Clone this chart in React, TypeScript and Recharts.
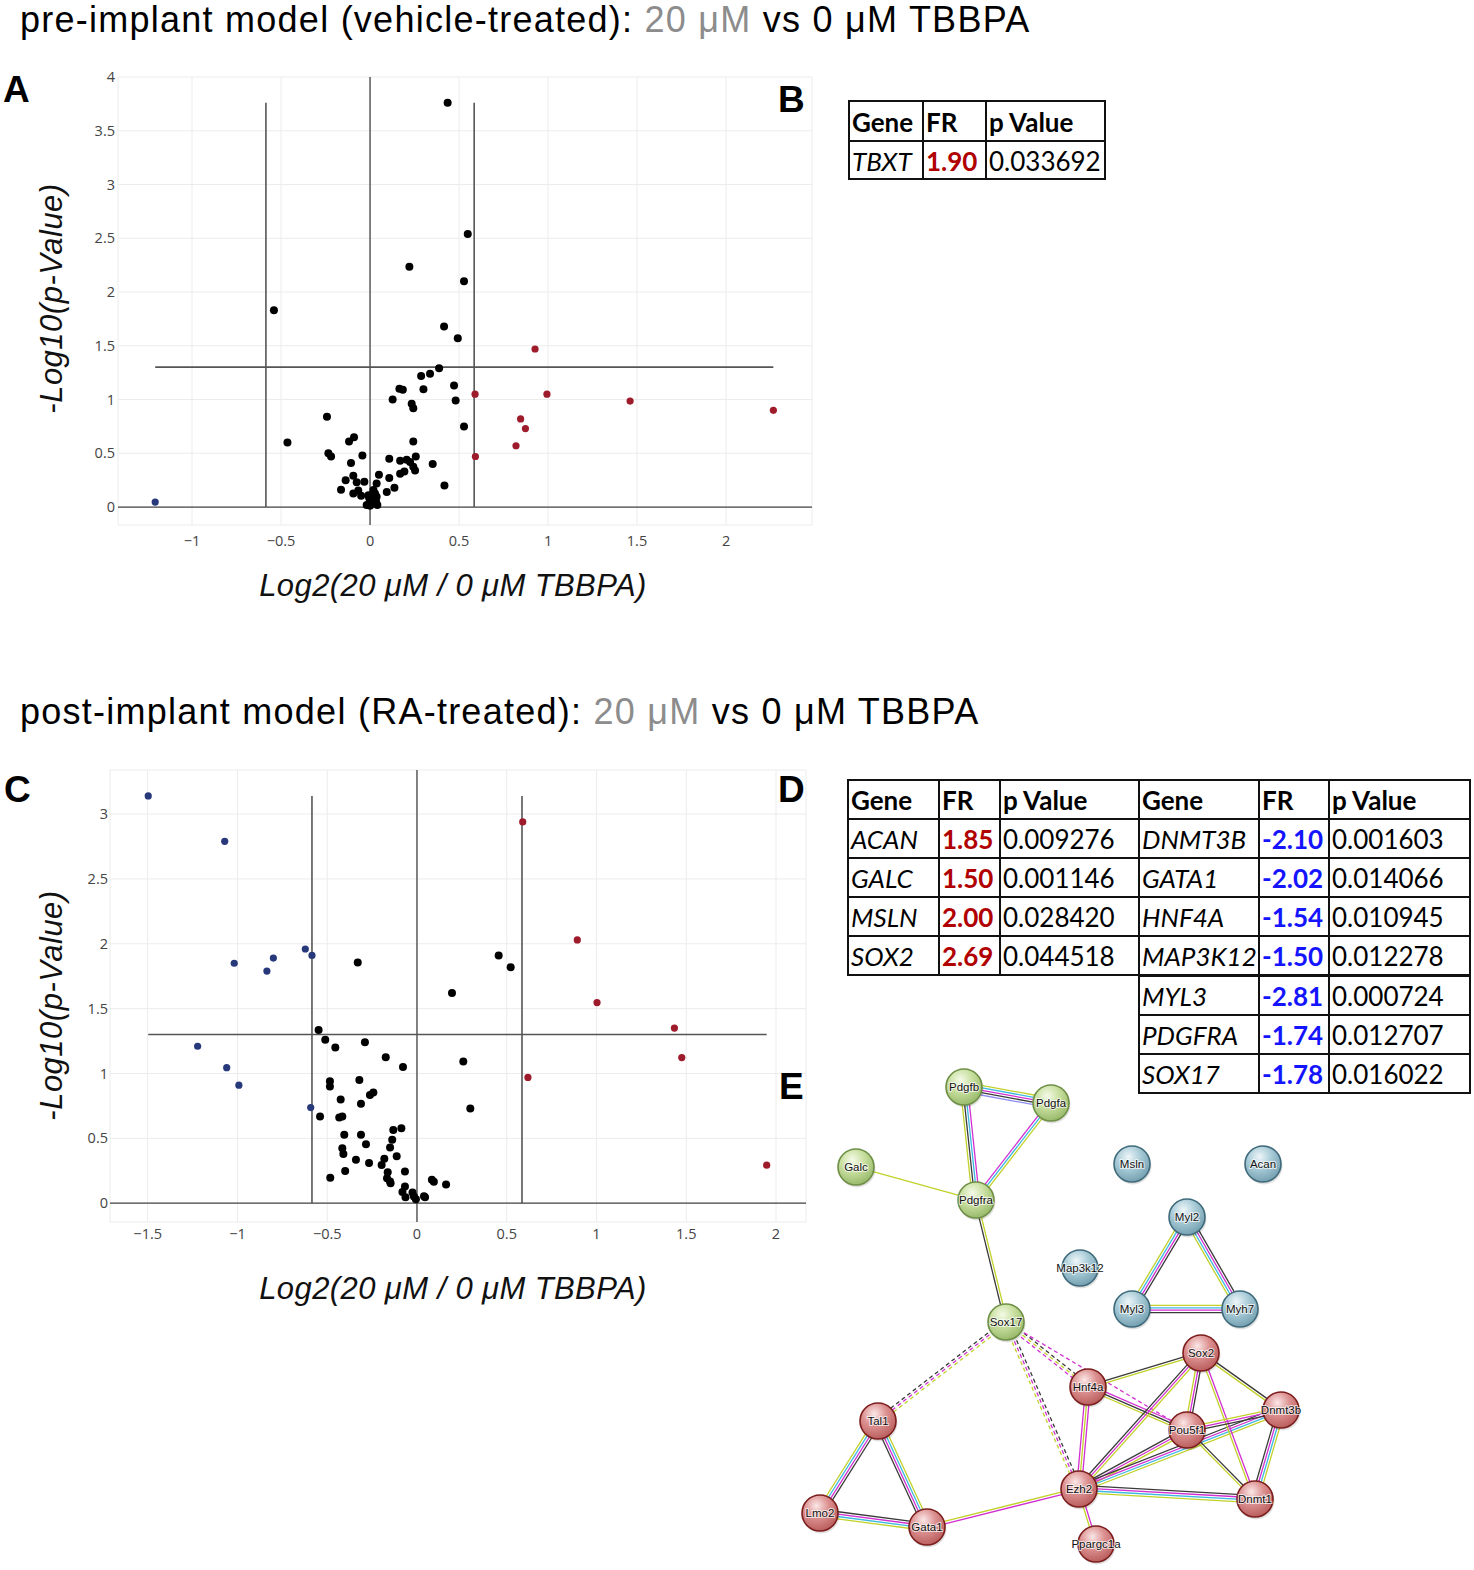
import React from 'react';
import { ScatterChart, Scatter, XAxis, YAxis, CartesianGrid, ReferenceLine } from 'recharts';

type P = [number, number];

// ---------- Panel A (pre-implant) ----------
const aBlack: P[] = [
  [-0.54, 1.83], [-0.464, 0.6], [-0.242, 0.84], [-0.234, 0.5], [-0.219, 0.47], [-0.118, 0.61],
  [-0.09, 0.65], [-0.107, 0.41], [-0.043, 0.48], [-0.137, 0.25], [-0.094, 0.29], [-0.163, 0.16],
  [-0.075, 0.23], [-0.094, 0.125], [-0.066, 0.155], [-0.05, 0.105], [-0.032, 0.235], [-0.019, 0.02],
  [0.0, 0.012], [0.041, 0.02], [0.034, 0.05], [-0.009, 0.11], [0.009, 0.11], [0.037, 0.096],
  [0.028, 0.127], [0.019, 0.158], [0.037, 0.22], [0.05, 0.3], [0.094, 0.14], [0.108, 0.27],
  [0.137, 0.18], [0.108, 0.45], [0.169, 0.31], [0.193, 0.33], [0.169, 0.43], [0.206, 0.44],
  [0.225, 0.42], [0.257, 0.47], [0.243, 0.375], [0.253, 0.34], [0.243, 0.61], [0.352, 0.4],
  [0.418, 0.2], [0.127, 1.0], [0.165, 1.1], [0.184, 1.09], [0.3, 1.095], [0.234, 0.96],
  [0.243, 0.92], [0.287, 1.22], [0.337, 1.24], [0.388, 1.29], [0.472, 1.13], [0.481, 0.99],
  [0.528, 0.75], [0.221, 2.235], [0.416, 1.68], [0.493, 1.57], [0.528, 2.1], [0.549, 2.54],
  [0.436, 3.76], [0.0, 0.04], [0.02, 0.075], [-0.005, 0.085],
];
const aRed: P[] = [
  [0.927, 1.47], [0.59, 1.05], [0.994, 1.05], [1.461, 0.986], [2.266, 0.9], [0.846, 0.82],
  [0.873, 0.73], [0.82, 0.57], [0.592, 0.47],
];
const aBlue: P[] = [[-1.207, 0.046]];
const aXTicks = [-1, -0.5, 0, 0.5, 1, 1.5, 2];
const aYTicks = [0, 0.5, 1, 1.5, 2, 2.5, 3, 3.5, 4];

// ---------- Panel C (post-implant) ----------
const cBlack: P[] = [
  [-0.33, 1.855], [0.455, 1.91], [0.522, 1.82], [0.195, 1.62], [0.258, 1.092], [0.297, 0.73],
  [-0.548, 1.336], [-0.511, 1.26], [-0.455, 1.2], [-0.29, 1.24], [-0.174, 1.126], [-0.078, 1.05],
  [-0.485, 0.94], [-0.485, 0.9], [-0.321, 0.95], [-0.262, 0.835], [-0.243, 0.853], [-0.425, 0.8],
  [-0.312, 0.766], [-0.54, 0.668], [-0.433, 0.66], [-0.416, 0.668], [-0.132, 0.565], [-0.087, 0.578],
  [-0.405, 0.527], [-0.312, 0.527], [-0.138, 0.49], [-0.284, 0.455], [-0.416, 0.424], [-0.41, 0.38],
  [-0.15, 0.43], [-0.113, 0.362], [-0.34, 0.334], [-0.182, 0.342], [-0.267, 0.31], [-0.197, 0.295],
  [-0.4, 0.249], [-0.067, 0.244], [-0.483, 0.197], [-0.163, 0.238], [-0.167, 0.193], [-0.15, 0.167],
  [-0.147, 0.154], [-0.067, 0.128], [-0.081, 0.086], [-0.064, 0.046], [-0.025, 0.082], [-0.017, 0.051],
  [-0.006, 0.031], [0.039, 0.054], [0.045, 0.046], [0.083, 0.18], [0.094, 0.165], [0.162, 0.144],
];
const cRed: P[] = [
  [0.589, 2.94], [0.893, 2.03], [1.003, 1.547], [1.434, 1.35], [1.475, 1.123], [0.618, 0.97], [1.948, 0.293],
];
const cBlue: P[] = [
  [-1.497, 3.14], [-1.071, 2.79], [-1.018, 1.85], [-0.836, 1.79], [-0.8, 1.89], [-0.622, 1.96],
  [-0.585, 1.91], [-1.222, 1.21], [-1.06, 1.045], [-0.992, 0.91], [-0.592, 0.737],
];
const cXTicks = [-1.5, -1, -0.5, 0, 0.5, 1, 1.5, 2];
const cYTicks = [0, 0.5, 1, 1.5, 2, 2.5, 3];

const FC_CUT = Math.log2(1.5);
const P_CUT = -Math.log10(0.05);

// ---------- Tables ----------
const tableBHeader = ['Gene', 'FR', 'p Value'];
const tableBGenes = ['TBXT'];
const tableBFR = ['1.90'];
const tableBP = ['0.033692'];

const tableDUpGenes = ['ACAN', 'GALC', 'MSLN', 'SOX2'];
const tableDUpFR = ['1.85', '1.50', '2.00', '2.69'];
const tableDUpP = ['0.009276', '0.001146', '0.028420', '0.044518'];
const tableDDownGenes = ['DNMT3B', 'GATA1', 'HNF4A', 'MAP3K12', 'MYL3', 'PDGFRA', 'SOX17'];
const tableDDownFR = ['-2.10', '-2.02', '-1.54', '-1.50', '-2.81', '-1.74', '-1.78'];
const tableDDownP = ['0.001603', '0.014066', '0.010945', '0.012278', '0.000724', '0.012707', '0.016022'];

// ---------- Network (E) ----------
const netNodes = [
  { name: 'Pdgfb', x: 964, y: 1087, group: 'green' },
  { name: 'Pdgfa', x: 1051, y: 1103, group: 'green' },
  { name: 'Galc', x: 856, y: 1167, group: 'green' },
  { name: 'Pdgfra', x: 976, y: 1200, group: 'green' },
  { name: 'Sox17', x: 1006, y: 1322, group: 'green' },
  { name: 'Msln', x: 1132, y: 1164, group: 'blue' },
  { name: 'Acan', x: 1263, y: 1164, group: 'blue' },
  { name: 'Myl2', x: 1187, y: 1217, group: 'blue' },
  { name: 'Map3k12', x: 1080, y: 1268, group: 'blue' },
  { name: 'Myl3', x: 1132, y: 1309, group: 'blue' },
  { name: 'Myh7', x: 1240, y: 1309, group: 'blue' },
  { name: 'Sox2', x: 1201, y: 1353, group: 'red' },
  { name: 'Hnf4a', x: 1088, y: 1387, group: 'red' },
  { name: 'Tal1', x: 878, y: 1421, group: 'red' },
  { name: 'Dnmt3b', x: 1281, y: 1410, group: 'red' },
  { name: 'Pou5f1', x: 1187, y: 1430, group: 'red' },
  { name: 'Ezh2', x: 1079, y: 1489, group: 'red' },
  { name: 'Dnmt1', x: 1255, y: 1499, group: 'red' },
  { name: 'Lmo2', x: 820, y: 1513, group: 'red' },
  { name: 'Gata1', x: 927, y: 1527, group: 'red' },
  { name: 'Ppargc1a', x: 1096, y: 1544, group: 'red' },
];
// [from, to, evidence colours, dashed]
const netEdges: [string, string, string, boolean][] = [
  ['Pdgfb', 'Pdgfa', 'ycmkb', false],
  ['Pdgfb', 'Pdgfra', 'mcky', false],
  ['Pdgfa', 'Pdgfra', 'ycm', false],
  ['Galc', 'Pdgfra', 'y', false],
  ['Pdgfra', 'Sox17', 'yk', false],
  ['Myl2', 'Myl3', 'kmcy', false],
  ['Myl2', 'Myh7', 'kmcy', false],
  ['Myl3', 'Myh7', 'ycmk', false],
  ['Sox17', 'Tal1', 'ymk', true],
  ['Sox17', 'Ezh2', 'kmy', true],
  ['Sox17', 'Hnf4a', 'kym', true],
  ['Sox17', 'Pou5f1', 'm', true],
  ['Tal1', 'Lmo2', 'kmcy', false],
  ['Tal1', 'Gata1', 'ycmk', false],
  ['Lmo2', 'Gata1', 'kmcy', false],
  ['Gata1', 'Ezh2', 'ym', false],
  ['Hnf4a', 'Ezh2', 'mym', false],
  ['Hnf4a', 'Sox2', 'ky', false],
  ['Hnf4a', 'Pou5f1', 'mky', false],
  ['Ezh2', 'Sox2', 'kmy', false],
  ['Ezh2', 'Pou5f1', 'kmy', false],
  ['Ezh2', 'Dnmt3b', 'kmcy', false],
  ['Ezh2', 'Dnmt1', 'kmcy', false],
  ['Ezh2', 'Ppargc1a', 'my', false],
  ['Sox2', 'Pou5f1', 'kmy', false],
  ['Sox2', 'Dnmt3b', 'ky', false],
  ['Sox2', 'Dnmt1', 'my', false],
  ['Pou5f1', 'Dnmt3b', 'ymk', false],
  ['Pou5f1', 'Dnmt1', 'ky', false],
  ['Dnmt3b', 'Dnmt1', 'ycmk', false],
];

const edgeColor: Record<string, string> = {
  k: '#3a3a3a', m: '#d22fd2', c: '#3cb8e0', y: '#c2d12a', b: '#8c8cf0',
};
const groupStyle: Record<string, { hi: string; base: string; dark: string; stroke: string }> = {
  green: { hi: '#f4fae8', base: '#c8df9f', dark: '#93b565', stroke: '#6e8f45' },
  blue: { hi: '#eef6f9', base: '#a8cbd7', dark: '#6f9bac', stroke: '#3f6a7b' },
  red: { hi: '#fbe8e8', base: '#dc9090', dark: '#b65858', stroke: '#7c1d1d' },
};

const toPts = (a: P[]) => a.map(([x, y]) => ({ x, y }));
const fmtTick = (v: number) => (v < 0 ? '\u2212' + String(Math.abs(v)) : String(v));
const dot = (fill: string, r: number) => (props: any) =>
  props.cx == null ? <g /> : <circle cx={props.cx} cy={props.cy} r={r} fill={fill} />;

const tickStyle = { fill: '#444', fontSize: 14.5, fontFamily: '"Open Sans", sans-serif' };

interface VolcanoProps {
  top: number;
  width: number;
  height: number;
  margin: { top: number; right: number; bottom: number; left: number };
  xDomain: [number, number];
  yDomain: [number, number];
  xTicks: number[];
  yTicks: number[];
  yTickSize: number;
  xTickSize: number;
  black: P[];
  red: P[];
  blue: P[];
}

function Volcano(p: VolcanoProps) {
  const all = [...p.black, ...p.red, ...p.blue];
  const minX = Math.min(...all.map((d) => d[0]));
  const maxX = Math.max(...all.map((d) => d[0]));
  const maxY = Math.max(...all.map((d) => d[1]));
  const lineStyle = { stroke: '#555', strokeWidth: 1.6 };
  return (
    <div style={{ position: 'absolute', left: 0, top: p.top }}>
      <ScatterChart width={p.width} height={p.height} margin={p.margin}>
        <CartesianGrid stroke="#ececec" strokeWidth={1} />
        <XAxis
          type="number"
          dataKey="x"
          domain={p.xDomain}
          ticks={p.xTicks}
          allowDataOverflow
          axisLine={false}
          tickLine={false}
          tickSize={p.xTickSize}
          tickMargin={2}
          height={30}
          tick={tickStyle}
          tickFormatter={fmtTick}
          interval={0}
        />
        <YAxis
          type="number"
          dataKey="y"
          domain={p.yDomain}
          ticks={p.yTicks}
          allowDataOverflow
          axisLine={false}
          tickLine={false}
          tickSize={p.yTickSize}
          tickMargin={2}
          width={60}
          tick={tickStyle}
          tickFormatter={fmtTick}
          interval={0}
        />
        <ReferenceLine x={0} stroke="#444" strokeWidth={1.3} />
        <ReferenceLine y={0} stroke="#444" strokeWidth={1.3} />
        <ReferenceLine segment={[{ x: -FC_CUT, y: 0 }, { x: -FC_CUT, y: maxY }]} {...lineStyle} />
        <ReferenceLine segment={[{ x: FC_CUT, y: 0 }, { x: FC_CUT, y: maxY }]} {...lineStyle} />
        <ReferenceLine segment={[{ x: minX, y: P_CUT }, { x: maxX, y: P_CUT }]} {...lineStyle} />
        <Scatter data={toPts(p.black)} isAnimationActive={false} shape={dot('#000000', 4)} />
        <Scatter data={toPts(p.red)} isAnimationActive={false} shape={dot('#9e1b2c', 3.6)} />
        <Scatter data={toPts(p.blue)} isAnimationActive={false} shape={dot('#27397a', 3.6)} />
      </ScatterChart>
    </div>
  );
}

const nodeByName: Record<string, { x: number; y: number }> = {};
netNodes.forEach((n) => (nodeByName[n.name] = n));

const edgeSegments = netEdges.flatMap(([a, b, cols, dashed], ei) => {
  const A = nodeByName[a];
  const B = nodeByName[b];
  const dx = B.x - A.x;
  const dy = B.y - A.y;
  const L = Math.hypot(dx, dy);
  const ux = dx / L;
  const uy = dy / L;
  const px = -uy;
  const py = ux;
  const n = cols.length;
  const gap = 2.4;
  const trim = 14;
  return cols.split('').map((c, i) => {
    const o = (i - (n - 1) / 2) * gap;
    return {
      key: `e${ei}-${i}`,
      x1: A.x + ux * trim + px * o,
      y1: A.y + uy * trim + py * o,
      x2: B.x - ux * trim + px * o,
      y2: B.y - uy * trim + py * o,
      color: edgeColor[c],
      dashed,
    };
  });
});

const NodeShape = (props: any) => {
  const { cx, cy, payload } = props;
  if (cx == null || !payload) return <g />;
  const st = groupStyle[payload.group];
  const id = `grad-${payload.name}`;
  return (
    <g>
      <defs>
        <radialGradient id={id} cx="40%" cy="30%" r="75%">
          <stop offset="0%" stopColor={st.hi} />
          <stop offset="45%" stopColor={st.base} />
          <stop offset="100%" stopColor={st.dark} />
        </radialGradient>
      </defs>
      <circle cx={cx + 1} cy={cy + 2} r={18.5} fill="rgba(0,0,0,0.12)" />
      <circle cx={cx} cy={cy} r={18} fill={`url(#${id})`} stroke={st.stroke} strokeWidth={1.6} />
      <text
        x={cx}
        y={cy + 4}
        textAnchor="middle"
        fontSize={11.5}
        fontFamily="Arial, 'Liberation Sans', sans-serif"
        fill="#111"
        stroke="#ffffff"
        strokeWidth={2}
        strokeOpacity={0.7}
        paintOrder="stroke"
      >
        {payload.name}
      </text>
    </g>
  );
};

function Network() {
  return (
    <div style={{ position: 'absolute', left: 780, top: 1050 }}>
      <ScatterChart width={560} height={520} margin={{ top: 0, right: 0, bottom: 0, left: 0 }}>
        <XAxis type="number" dataKey="x" domain={[780, 1340]} hide allowDataOverflow />
        <YAxis type="number" dataKey="y" domain={[1050, 1570]} hide reversed allowDataOverflow />
        {edgeSegments.map((s) => (
          <ReferenceLine
            key={s.key}
            segment={[{ x: s.x1, y: s.y1 }, { x: s.x2, y: s.y2 }]}
            stroke={s.color}
            strokeWidth={1.3}
            strokeDasharray={s.dashed ? '4 3' : undefined}
            ifOverflow="visible"
          />
        ))}
        <Scatter data={netNodes} isAnimationActive={false} shape={NodeShape} />
      </ScatterChart>
    </div>
  );
}

// ---------- Table helpers ----------
const tblFont = 'Lato, "Open Sans", sans-serif';
const RED = '#b00000';
const BLUE = '#1414ff';

function Cell(props: {
  x: number; y: number; w: number; h: number; text: string;
  bold?: boolean; italic?: boolean; color?: string;
}) {
  return (
    <div
      style={{
        position: 'absolute',
        left: props.x - 1,
        top: props.y - 1,
        width: props.w,
        height: props.h,
        border: '2px solid #111',
        boxSizing: 'border-box',
        fontFamily: tblFont,
        fontSize: 26,
        lineHeight: `${props.h - 2}px`,
        paddingLeft: 2,
        whiteSpace: 'nowrap',
        fontWeight: props.bold ? 700 : 400,
        fontStyle: props.italic ? 'italic' : 'normal',
        color: props.color || '#000',
        overflow: 'visible',
      }}
    >
      {props.text}
    </div>
  );
}

function TableB() {
  const left = 849;
  const top = 101;
  const cols = [74, 63, 119];
  const rows = [40, 38];
  const xs = [left, left + cols[0], left + cols[0] + cols[1]];
  const cells: React.ReactNode[] = [];
  tableBHeader.forEach((h, i) =>
    cells.push(<Cell key={'h' + i} x={xs[i]} y={top} w={cols[i] + 2} h={rows[0] + 2} text={h} bold />)
  );
  tableBGenes.forEach((g, r) => {
    const y = top + rows[0] + r * rows[1];
    cells.push(<Cell key={'g' + r} x={xs[0]} y={y} w={cols[0] + 2} h={rows[1] + 2} text={g} italic />);
    cells.push(<Cell key={'f' + r} x={xs[1]} y={y} w={cols[1] + 2} h={rows[1] + 2} text={tableBFR[r]} bold color={RED} />);
    cells.push(<Cell key={'p' + r} x={xs[2]} y={y} w={cols[2] + 2} h={rows[1] + 2} text={tableBP[r]} />);
  });
  return <>{cells}</>;
}

function TableD() {
  const left = 848;
  const top = 780;
  const cols = [91, 61, 139, 120, 70, 141];
  const rowH = 39.1;
  const xs: number[] = [];
  cols.reduce((acc, w) => {
    xs.push(acc);
    return acc + w;
  }, left);
  const cells: React.ReactNode[] = [];
  tableBHeader.concat(tableBHeader).forEach((h, i) =>
    cells.push(<Cell key={'h' + i} x={xs[i]} y={top} w={cols[i] + 2} h={rowH + 2} text={h} bold />)
  );
  tableDUpGenes.forEach((g, r) => {
    const y = top + (r + 1) * rowH;
    cells.push(<Cell key={'ug' + r} x={xs[0]} y={y} w={cols[0] + 2} h={rowH + 2} text={g} italic />);
    cells.push(<Cell key={'uf' + r} x={xs[1]} y={y} w={cols[1] + 2} h={rowH + 2} text={tableDUpFR[r]} bold color={RED} />);
    cells.push(<Cell key={'up' + r} x={xs[2]} y={y} w={cols[2] + 2} h={rowH + 2} text={tableDUpP[r]} />);
  });
  tableDDownGenes.forEach((g, r) => {
    const y = top + (r + 1) * rowH;
    cells.push(<Cell key={'dg' + r} x={xs[3]} y={y} w={cols[3] + 2} h={rowH + 2} text={g} italic />);
    cells.push(<Cell key={'df' + r} x={xs[4]} y={y} w={cols[4] + 2} h={rowH + 2} text={tableDDownFR[r]} bold color={BLUE} />);
    cells.push(<Cell key={'dp' + r} x={xs[5]} y={y} w={cols[5] + 2} h={rowH + 2} text={tableDDownP[r]} />);
  });
  return <>{cells}</>;
}

const sans = '"Liberation Sans", Arial, sans-serif';

function Title(props: { top: number; pre: string }) {
  return (
    <div
      style={{
        position: 'absolute',
        left: 20,
        top: props.top,
        fontFamily: sans,
        fontSize: 36,
        lineHeight: '36px',
        whiteSpace: 'nowrap',
        color: '#000',
        letterSpacing: 1.25,
      }}
    >
      {props.pre}
      <span style={{ color: '#8c8c8c' }}>20 μM</span>
      {' vs 0 μM TBBPA'}
    </div>
  );
}

function PanelLetter(props: { x: number; y: number; t: string }) {
  return (
    <div
      style={{
        position: 'absolute', left: props.x, top: props.y, fontFamily: sans, fontWeight: 700,
        fontSize: 37, lineHeight: '37px', color: '#000',
      }}
    >
      {props.t}
    </div>
  );
}

function XTitle(props: { top: number }) {
  return (
    <div
      style={{
        position: 'absolute', left: 153, width: 600, top: props.top, textAlign: 'center',
        fontFamily: sans, fontStyle: 'italic', fontSize: 31, lineHeight: '31px', color: '#111',
        letterSpacing: 0.4,
      }}
    >
      Log2(20 μM / 0 μM TBBPA)
    </div>
  );
}

function YTitle(props: { cy: number }) {
  return (
    <div
      style={{
        position: 'absolute', left: 51 - 170, width: 340, top: props.cy - 15.5, textAlign: 'center',
        fontFamily: sans, fontStyle: 'italic', fontSize: 31, lineHeight: '31px', color: '#111',
        transform: 'rotate(-90deg)', transformOrigin: '50% 50%', letterSpacing: 0.5,
      }}
    >
      -Log10(p-Value)
    </div>
  );
}

export default function App() {
  return (
    <div style={{ position: 'absolute', left: 0, top: 0, width: 1474, height: 1570, background: '#fff', overflow: 'hidden' }}>
      <Title top={2} pre="pre-implant model (vehicle-treated): " />
      <Title top={694} pre="post-implant model (RA-treated): " />
      <Volcano
        top={0}
        width={830}
        height={560}
        margin={{ top: 77, right: 18, bottom: 5, left: 58 }}
        xDomain={[-1.416, 2.483]}
        yDomain={[-0.167, 4.0]}
        xTicks={aXTicks}
        yTicks={aYTicks}
        yTickSize={1}
        xTickSize={9}
        black={aBlack}
        red={aRed}
        blue={aBlue}
      />
      <Volcano
        top={700}
        width={824}
        height={557}
        margin={{ top: 70, right: 18, bottom: 5, left: 50 }}
        xDomain={[-1.71, 2.167]}
        yDomain={[-0.145, 3.34]}
        xTicks={cXTicks}
        yTicks={cYTicks}
        yTickSize={0}
        xTickSize={5}
        black={cBlack}
        red={cRed}
        blue={cBlue}
      />
      <XTitle top={570} />
      <XTitle top={1273} />
      <YTitle cy={298} />
      <YTitle cy={1005} />
      <TableB />
      <TableD />
      <Network />
      <PanelLetter x={3} y={71} t="A" />
      <PanelLetter x={778} y={81} t="B" />
      <PanelLetter x={4} y={771} t="C" />
      <PanelLetter x={778} y={771} t="D" />
      <PanelLetter x={779} y={1068} t="E" />
    </div>
  );
}
